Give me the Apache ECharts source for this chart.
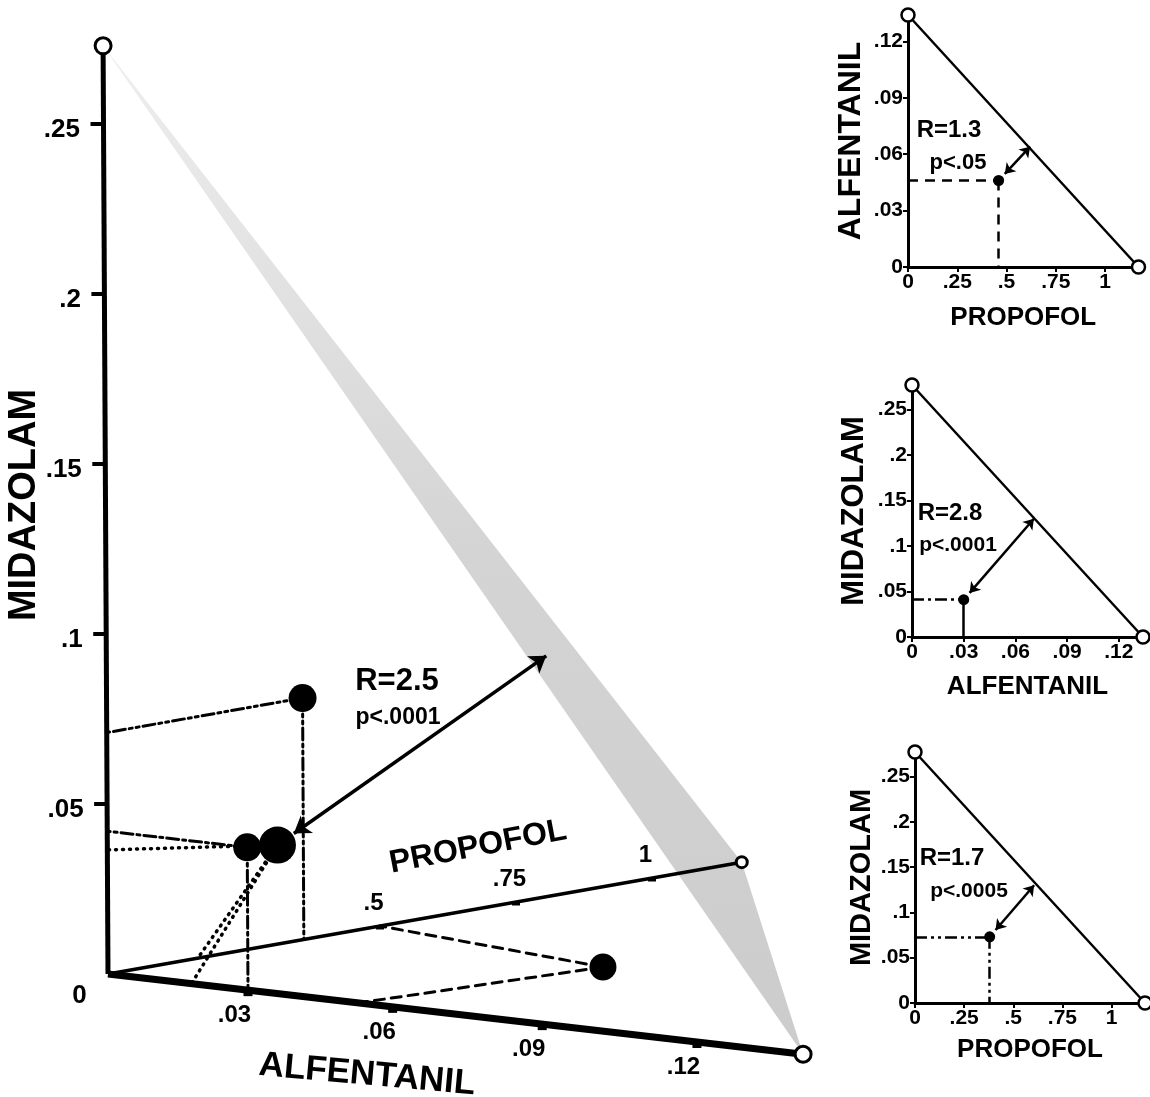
<!DOCTYPE html>
<html><head><meta charset="utf-8">
<script src="https://cdn.jsdelivr.net/npm/echarts@6/dist/echarts.min.js"></script>
<style>html,body{margin:0;padding:0;background:#fff}#c{width:1150px;height:1097px}</style>
</head><body><div id="c"></div>
<script>
// ================= DATA =================
// Main 3-D isobologram: values are [alfentanil, propofol, midazolam]
const mainAxisEnd = [0.14, 1.165, 0.273];          // single-drug ED50 ends of the three axes
const alfTicksMain = [0.03, 0.06, 0.09, 0.12];
const propTicksMain = [0.5, 0.75, 1];
const midTicksMain = [0.05, 0.1, 0.15, 0.2, 0.25];
const ptAlfProp = [0.053, 0.5, 0];                  // alfentanil + propofol
const ptPropMid = [0, 0.36, 0.071];                 // propofol + midazolam
const ptAlfMid  = [0.03, 0, 0.042];                 // alfentanil + midazolam
const ptTriple  = [0.018, 0.165, 0.0365];           // all three drugs
const tripleArrowTip = [0.046, 0.45, 0.091];        // foot on the additivity plane
const mainStats = ['R=2.5', 'p<.0001'];

// Small isobolograms: single-drug ED50 values
const ed50Alf = 0.134, ed50Prop = 1.17, ed50Mid = 0.277;
// panel 1: x propofol, y alfentanil
const p1Point = [0.46, 0.046], p1Tip = [0.62, 0.064];
// panel 2: x alfentanil, y midazolam
const p2Point = [0.03, 0.041], p2Tip = [0.0707, 0.13];
// panel 3: x propofol, y midazolam
const p3Point = [0.38, 0.073], p3Tip = [0.606, 0.13];
const panelStats = [['R=1.3', 'p<.05'], ['R=2.8', 'p<.0001'], ['R=1.7', 'p<.0005']];

// ================= LAYOUT / STYLE =================
const SANS = '"Liberation Sans", Arial, sans-serif';
const fmt = v => { const s = String(parseFloat(Number(v).toFixed(3))); return s.startsWith('0.') ? s.slice(1) : s; };

// perspective-like projection of the 3-D dose space onto the page
const O = [108, 974];
function proj(v) {
  const a = v[0], p = v[1], m = v[2];
  const w = 1 - 0.538 * a;
  return [O[0] + 4591 * a / w + 544 * p - 1038 * a * p - 18 * m,
          O[1] + 530 * a / w - 96 * p + 457 * a * p - 3400 * m];
}
const DASH_DOT = [12, 4, 3, 4];
const DASH_DOT_DOT = [12, 4, 3, 4, 3, 4];
const DASHED = [10, 7];
const DOTTED = [1, 6];

const series = [];
// additivity plane
const planeVerts = [[mainAxisEnd[0], 0, 0], [0, mainAxisEnd[1], 0], [0, 0, mainAxisEnd[2]]];
series.push({
  type: 'custom', xAxisIndex: 0, yAxisIndex: 0, data: [[0, 0]], z: 1, silent: true,
  renderItem: (params, api) => ({
    type: 'polygon',
    shape: { points: planeVerts.map(v => api.coord(proj(v))) },
    style: { fill: new echarts.graphic.LinearGradient(0, 0, 0, 1, [
      { offset: 0, color: '#eeeeee' }, { offset: 0.5, color: '#d4d4d4' }, { offset: 1, color: '#cccccc' }]) }
  })
});
// main axes
function axisLine(end, width, circ) {
  return {
    type: 'line', xAxisIndex: 0, yAxisIndex: 0, z: 5, clip: false, silent: true,
    data: [{ value: proj([0, 0, 0]), symbol: 'none' }, { value: proj(end), symbol: 'circle', symbolSize: circ }],
    lineStyle: { color: '#000', width: width },
    itemStyle: { color: '#fff', borderColor: '#000', borderWidth: 3, opacity: 1 }
  };
}
series.push(axisLine([0, 0, mainAxisEnd[2]], 5, 16));
series.push(axisLine([mainAxisEnd[0], 0, 0], 7, 16));
series.push(axisLine([0, mainAxisEnd[1], 0], 3.5, 11));
// ticks on main axes
function tickMarks(pts, size, off) {
  return { type: 'scatter', xAxisIndex: 0, yAxisIndex: 0, z: 6, silent: true, symbol: 'rect', symbolSize: size, symbolOffset: off,
    itemStyle: { color: '#000', opacity: 1 }, data: pts };
}
series.push(tickMarks(midTicksMain.map(m => proj([0, 0, m])), [12, 4], [-7, 0]));
series.push(tickMarks(alfTicksMain.map(a => proj([a, 0, 0])), [9, 4], [0, 4]));
series.push(tickMarks(propTicksMain.map(p => proj([0, p, 0])), [8, 3], [0, 2]));
// tick labels on main axes
function tickLabels(vals, toPt, pos, align, size) {
  return { type: 'scatter', xAxisIndex: 0, yAxisIndex: 0, z: 7, silent: true, symbolSize: 1,
    itemStyle: { color: 'rgba(0,0,0,0)', opacity: 1 },
    label: { show: true, position: pos, align: align, verticalAlign: 'middle', color: '#000', opacity: 1,
      fontFamily: SANS, fontWeight: 'bold', fontSize: size, formatter: p => fmt(p.data.name) },
    data: vals.map(v => ({ value: toPt(v), name: v })) };
}
series.push(tickLabels(midTicksMain, m => proj([0, 0, m]), [-23, 6], 'right', 26));
series.push(tickLabels(alfTicksMain, a => proj([a, 0, 0]), [-13, 26], 'center', 24));
series.push(tickLabels(propTicksMain, p => proj([0, p, 0]), [-6, -22], 'center', 24));
series.push(tickLabels([0], v => proj([0, 0, 0]), [-28, 22], 'center', 26));
// drop lines
function dropLines(pt, targets, type, width) {
  return { type: 'lines', coordinateSystem: 'cartesian2d', xAxisIndex: 0, yAxisIndex: 0, z: 8, silent: true,
    lineStyle: { color: '#000', width: width || 3, type: type, cap: 'round', opacity: 1 },
    data: targets.map(t => ({ coords: [proj(pt), proj(t)] })) };
}
series.push(dropLines(ptPropMid, [[0, 0, ptPropMid[2]], [0, ptPropMid[1], 0]], DASH_DOT_DOT));
series.push(dropLines(ptAlfMid, [[0, 0, ptAlfMid[2]], [ptAlfMid[0], 0, 0]], DASH_DOT));
series.push(dropLines(ptAlfProp, [[0, ptAlfProp[1], 0], [ptAlfProp[0], 0, 0]], DASHED));
series.push(dropLines(ptTriple, [[0, 0, ptTriple[2]], [0, ptTriple[1], 0], [ptTriple[0], 0, 0]], DOTTED, 3.5));
// balls
series.push({ type: 'scatter', xAxisIndex: 0, yAxisIndex: 0, z: 10, silent: true, symbol: 'circle',
  itemStyle: { color: '#000', opacity: 1 },
  data: [
    { value: proj(ptPropMid), symbolSize: 28 },
    { value: proj(ptAlfMid), symbolSize: 28 },
    { value: proj(ptAlfProp), symbolSize: 27 },
    { value: proj(ptTriple), symbolSize: 37 }
  ] });
// main arrow from triple point toward additivity plane
(function () {
  const c = proj(ptTriple), t = proj(tripleArrowTip);
  const dx = t[0] - c[0], dy = t[1] - c[1], L = Math.hypot(dx, dy);
  const s = [c[0] + dx / L * 20, c[1] + dy / L * 20];
  series.push({ type: 'lines', coordinateSystem: 'cartesian2d', xAxisIndex: 0, yAxisIndex: 0, z: 11, silent: true,
    symbol: ['arrow', 'arrow'], symbolSize: 16,
    lineStyle: { color: '#000', width: 3.5, opacity: 1 },
    data: [{ coords: [s, t] }] });
})();

// ---- small panels ----
const panels = [
  { grid: { left: 908, top: 15, width: 230.5, height: 252 }, xMax: ed50Prop, yMax: ed50Alf, xInt: 0.25, yInt: 0.03,
    xName: 'PROPOFOL', yName: 'ALFENTANIL', pt: p1Point, tip: p1Tip, hType: DASHED, vType: DASHED, yNameGap: 41, yNameSize: 32, xNameGap: 38 },
  { grid: { left: 912, top: 385, width: 231, height: 252 }, xMax: ed50Alf, yMax: ed50Mid, xInt: 0.03, yInt: 0.05,
    xName: 'ALFENTANIL', yName: 'MIDAZOLAM', pt: p2Point, tip: p2Tip, hType: DASH_DOT, vType: 'solid', yNameGap: 42, yNameSize: 31, xNameGap: 37 },
  { grid: { left: 915, top: 752, width: 230, height: 251 }, xMax: ed50Prop, yMax: ed50Mid, xInt: 0.25, yInt: 0.05,
    xName: 'PROPOFOL', yName: 'MIDAZOLAM', pt: p3Point, tip: p3Tip, hType: DASH_DOT_DOT, vType: DASH_DOT_DOT, yNameGap: 38, yNameSize: 29, xNameGap: 34 }
];
const grids = [{ left: 0, top: 0, width: 1150, height: 1097 }];
const xAxes = [{ type: 'value', gridIndex: 0, min: 0, max: 1150, show: false }];
const yAxes = [{ type: 'value', gridIndex: 0, min: 0, max: 1097, inverse: true, show: false }];
const axisLabelStyle = { color: '#000', fontFamily: SANS, fontWeight: 'bold', fontSize: 21, formatter: fmt, showMaxLabel: false };
panels.forEach((P, i) => {
  const gi = i + 1;
  grids.push(P.grid);
  xAxes.push({ type: 'value', gridIndex: gi, min: 0, max: P.xMax, interval: P.xInt,
    axisLine: { show: true, lineStyle: { color: '#000', width: 3 } },
    axisTick: { show: true, length: 5, lineStyle: { color: '#000', width: 2 } },
    splitLine: { show: false },
    axisLabel: Object.assign({ margin: 5 }, axisLabelStyle),
    name: P.xName, nameLocation: 'middle', nameGap: P.xNameGap,
    nameTextStyle: { color: '#000', fontFamily: SANS, fontWeight: 'bold', fontSize: 26 } });
  yAxes.push({ type: 'value', gridIndex: gi, min: 0, max: P.yMax, interval: P.yInt,
    axisLine: { show: true, lineStyle: { color: '#000', width: 3 } },
    axisTick: { show: true, length: 5, lineStyle: { color: '#000', width: 2 } },
    splitLine: { show: false },
    axisLabel: Object.assign({ margin: 5 }, axisLabelStyle),
    name: P.yName, nameLocation: 'middle', nameGap: P.yNameGap,
    nameTextStyle: { color: '#000', fontFamily: SANS, fontWeight: 'bold', fontSize: P.yNameSize } });
  // hypotenuse (additive isobole) with open circles
  series.push({ type: 'line', xAxisIndex: gi, yAxisIndex: gi, z: 5, clip: false, silent: true,
    data: [[0, P.yMax], [P.xMax, 0]], symbol: 'circle', symbolSize: 13,
    lineStyle: { color: '#000', width: 2.5 },
    itemStyle: { color: '#fff', borderColor: '#000', borderWidth: 2.5, opacity: 1 } });
  // drop lines
  series.push({ type: 'lines', coordinateSystem: 'cartesian2d', xAxisIndex: gi, yAxisIndex: gi, z: 6, silent: true,
    lineStyle: { color: '#000', width: 2.5, type: P.hType, opacity: 1 },
    data: [{ coords: [[0, P.pt[1]], P.pt] }] });
  series.push({ type: 'lines', coordinateSystem: 'cartesian2d', xAxisIndex: gi, yAxisIndex: gi, z: 6, silent: true,
    lineStyle: { color: '#000', width: 2.5, type: P.vType, opacity: 1 },
    data: [{ coords: [P.pt, [P.pt[0], 0]] }] });
  // arrow toward isobole
  const sx = P.grid.width / P.xMax, sy = P.grid.height / P.yMax;
  const ddx = (P.tip[0] - P.pt[0]) * sx, ddy = (P.tip[1] - P.pt[1]) * sy;
  const f = 9 / Math.hypot(ddx, ddy);
  const start = [P.pt[0] + (P.tip[0] - P.pt[0]) * f, P.pt[1] + (P.tip[1] - P.pt[1]) * f];
  series.push({ type: 'lines', coordinateSystem: 'cartesian2d', xAxisIndex: gi, yAxisIndex: gi, z: 7, silent: true,
    symbol: ['arrow', 'arrow'], symbolSize: 10,
    lineStyle: { color: '#000', width: 2.5, opacity: 1 },
    data: [{ coords: [start, P.tip] }] });
  // point
  series.push({ type: 'scatter', xAxisIndex: gi, yAxisIndex: gi, z: 8, silent: true, symbolSize: 11,
    itemStyle: { color: '#000', opacity: 1 }, data: [P.pt] });
});

// ---- text ----
function txt(text, x, y, font, rot, align) {
  return { type: 'text', x: x, y: y, rotation: rot || 0, z: 20, silent: true,
    style: { text: text, x: 0, y: 0, font: font, fill: '#000', align: align || 'center', verticalAlign: 'middle' } };
}
const graphic = [
  txt('MIDAZOLAM', 25, 505, 'bold 38px ' + SANS, Math.PI / 2),
  txt('ALFENTANIL', 367, 1075, 'bold 35px ' + SANS, -0.09),
  txt('PROPOFOL', 478, 847, 'bold 32px ' + SANS, 0.19),
  txt(mainStats[0], 397, 681, 'bold 31px ' + SANS),
  txt(mainStats[1], 398, 718, 'bold 23px ' + SANS),
  txt(panelStats[0][0], 949, 130, 'bold 24px ' + SANS),
  txt(panelStats[0][1], 958, 163, 'bold 22px ' + SANS),
  txt(panelStats[1][0], 950, 513, 'bold 24px ' + SANS),
  txt(panelStats[1][1], 958, 545, 'bold 21px ' + SANS),
  txt(panelStats[2][0], 952, 858, 'bold 24px ' + SANS),
  txt(panelStats[2][1], 969, 891, 'bold 21px ' + SANS)
];

const chart = echarts.init(document.getElementById('c'), null, { renderer: 'canvas' });
chart.setOption({
  animation: false,
  backgroundColor: '#fff',
  grid: grids, xAxis: xAxes, yAxis: yAxes,
  series: series,
  graphic: graphic
});
</script>
</body></html>
